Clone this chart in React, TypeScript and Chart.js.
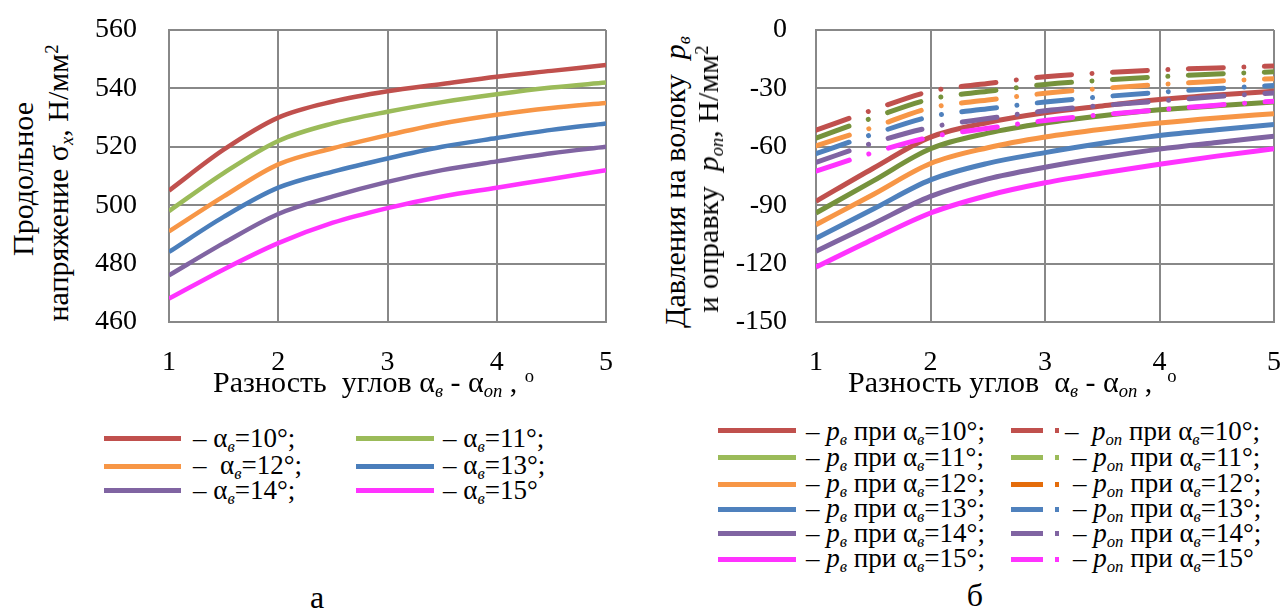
import React, { useEffect, useRef } from "react";
import { Chart, registerables } from "chart.js";

Chart.register(...registerables);

const FONT = '"Liberation Serif", "Times New Roman", serif';
const GRID = "#888888";

// ---------- data ----------
const angleDiff = [1, 1.5, 2, 2.5, 3, 3.5, 4, 4.5, 5];
const xTickValues = [1, 2, 3, 4, 5];
const sigmaTicks = [460, 480, 500, 520, 540, 560];
const pressureTicks = [-150, -120, -90, -60, -30, 0];
const alphaLabels = ["10", "11", "12", "13", "14", "15"];

// longitudinal stress sigma_x, N/mm2 (chart a)
const sigma10 = [505, 519, 530, 535.5, 539, 541.5, 544, 546, 548];
const sigma11 = [498, 511, 522, 528, 532, 535.3, 538, 540.3, 542];
const sigma12 = [491, 503, 514, 519.5, 524, 528, 531, 533.3, 535];
const sigma13 = [484, 496, 506, 511.5, 516, 520, 523, 525.8, 528];
const sigma14 = [476, 487, 497, 503, 508, 512, 515, 517.8, 520];
const sigma15 = [468, 478, 487, 494, 499, 503, 506, 509, 512];

// die pressure p_v (chart б, solid)
const pv10 = [-88, -71, -55, -47.5, -42.5, -39, -35.7, -33.4, -31.5];
const pv11 = [-94, -77.5, -61, -53, -47.8, -44, -41, -38.9, -37];
const pv12 = [-100, -84.5, -68.6, -60.5, -55, -51, -47.8, -45.2, -43];
const pv13 = [-107, -92, -77, -68.5, -63, -58.2, -54.2, -51.2, -48.5];
const pv14 = [-113.7, -99.5, -85.5, -76.5, -70.5, -65.5, -61.2, -57.8, -54.6];
const pv15 = [-121.8, -107.5, -94, -85, -78.5, -73.5, -69, -64.8, -61];

// mandrel pressure p_op (chart б, dash-dot)
const pop10 = [-51.5, -41, -31.5, -27.5, -24, -22, -20.5, -19.5, -18.5];
const pop11 = [-55.5, -45, -35.5, -31.5, -28, -25.8, -24, -22.6, -21.5];
const pop12 = [-59.5, -50, -40, -36, -32.5, -30, -28, -26.3, -25];
const pop13 = [-63.5, -53.5, -44.5, -40.5, -37, -34.3, -32, -30.1, -28.5];
const pop14 = [-68, -58, -50, -45.5, -41.5, -38.8, -36.5, -34.2, -32.3];
const pop15 = [-72.5, -63, -55, -50.5, -46.5, -43.5, -41, -38.6, -36.6];

// ---------- styles ----------
const leftColors = ["#C0504D", "#9BBB59", "#F79646", "#4A7EBB", "#8064A2", "#FF33FF"];
const rightColors = ["#C0504D", "#76923C", "#F79646", "#4F81BD", "#8064A2", "#FF33FF"];
const rightLegendSolid = ["#C0504D", "#9BBB59", "#F79646", "#4F81BD", "#8064A2", "#FF33FF"];
const rightLegendDash = ["#C0504D", "#9BBB59", "#E46C0A", "#4F81BD", "#8064A2", "#FF33FF"];

const sigmaSeries = [sigma10, sigma11, sigma12, sigma13, sigma14, sigma15];
const pvSeries = [pv10, pv11, pv12, pv13, pv14, pv15];
const popSeries = [pop10, pop11, pop12, pop13, pop14, pop15];

const toPoints = (ys: number[]) => ys.map((y, i) => ({ x: angleDiff[i], y }));

type ChartCfg = {
  left: number;
  width: number;
  yAxisWidth: number;
  tickPad: number;
  padRight: number;
  yMin: number;
  yMax: number;
  yTicks: number[];
  datasets: any[];
};

function PlotCanvas({ cfg }: { cfg: ChartCfg }) {
  const ref = useRef<HTMLCanvasElement | null>(null);
  useEffect(() => {
    if (!ref.current) return;
    const tickFont = { family: FONT, size: 28 };
    const chart = new Chart(ref.current, {
      type: "line",
      data: { datasets: cfg.datasets },
      options: {
        responsive: false,
        animation: false,
        devicePixelRatio: 1,
        layout: { padding: { top: 30, right: cfg.padRight, left: 0, bottom: 0 } },
        plugins: { legend: { display: false }, tooltip: { enabled: false } },
        elements: { point: { radius: 0 } },
        scales: {
          x: {
            type: "linear",
            min: 1,
            max: 5,
            afterBuildTicks: (s: any) => {
              s.ticks = xTickValues.map((v) => ({ value: v }));
            },
            afterFit: (s: any) => {
              s.height = 58;
              s.paddingLeft = 0;
              s.paddingRight = 0;
            },
            ticks: { font: tickFont, color: "#000", padding: 24, maxRotation: 0, autoSkip: false },
            grid: { color: GRID, lineWidth: 2, drawTicks: false },
            border: { display: true, color: GRID, width: 2 },
          },
          y: {
            type: "linear",
            min: cfg.yMin,
            max: cfg.yMax,
            afterBuildTicks: (s: any) => {
              s.ticks = cfg.yTicks.map((v) => ({ value: v }));
            },
            afterFit: (s: any) => {
              s.width = cfg.yAxisWidth;
              s.paddingTop = 0;
              s.paddingBottom = 0;
            },
            ticks: { font: tickFont, color: "#000", padding: cfg.tickPad },
            grid: { color: GRID, lineWidth: 2, drawTicks: false },
            border: { display: true, color: GRID, width: 2 },
          },
        },
      } as any,
    });
    return () => chart.destroy();
  }, []);
  return (
    <canvas
      ref={ref}
      width={cfg.width}
      height={380}
      style={{ position: "absolute", left: cfg.left, top: 0, width: cfg.width, height: 380 }}
    />
  );
}

const Sub = ({ children, italic = true }: any) => (
  <span
    style={{
      fontSize: "0.62em",
      fontStyle: italic ? "italic" : "normal",
      position: "relative",
      top: "0.28em",
    }}
  >
    {children}
  </span>
);
const Sup = ({ children }: any) => (
  <span style={{ fontSize: "0.62em", position: "relative", top: "-0.55em" }}>{children}</span>
);
const AlphaV = () => (
  <>
    α<Sub>в</Sub>
  </>
);
const P = ({ sub }: { sub: string }) => (
  <>
    <i>p</i>
    <Sub>{sub}</Sub>
  </>
);

function Text({ x, y, size, children, anchor = "left" }: any) {
  // y = baseline
  const top = y - 0.8375 * size;
  return (
    <div
      style={{
        position: "absolute",
        left: x,
        top,
        fontSize: size,
        lineHeight: `${size}px`,
        whiteSpace: "pre",
        transform: anchor === "center" ? "translateX(-50%)" : undefined,
      }}
    >
      {children}
    </div>
  );
}

function VText({ cx, cy, size, children }: any) {
  return (
    <div
      style={{
        position: "absolute",
        left: cx,
        top: cy,
        fontSize: size,
        lineHeight: `${size}px`,
        whiteSpace: "pre",
        transform: "translate(-50%, -50%) rotate(-90deg)",
      }}
    >
      {children}
    </div>
  );
}

function Bar({ x1, x2, y, h, color }: any) {
  return (
    <div
      style={{ position: "absolute", left: x1, top: y - h / 2, width: x2 - x1, height: h, background: color }}
    />
  );
}

export default function App() {
  const leftCfg: ChartCfg = {
    left: 80,
    width: 560,
    yAxisWidth: 89,
    tickPad: 32,
    padRight: 34,
    yMin: 460,
    yMax: 560,
    yTicks: sigmaTicks,
    datasets: sigmaSeries.map((s, i) => ({
      data: toPoints(s),
      borderColor: leftColors[i],
      borderWidth: 4.5,
      pointRadius: 0,
      cubicInterpolationMode: "monotone",
      fill: false,
    })),
  };

  const rightCfg: ChartCfg = {
    left: 720,
    width: 565,
    yAxisWidth: 96,
    tickPad: 29,
    padRight: 11,
    yMin: -150,
    yMax: 0,
    yTicks: pressureTicks,
    datasets: [
      ...popSeries.map((s, i) => ({
        data: toPoints(s),
        borderColor: rightColors[i],
        borderWidth: 5,
        borderDash: [35, 20.5, 0.01, 20.5],
        borderCapStyle: "round",
        pointRadius: 0,
        cubicInterpolationMode: "monotone",
        fill: false,
      })),
      ...pvSeries.map((s, i) => ({
        data: toPoints(s),
        borderColor: rightColors[i],
        borderWidth: 5,
        pointRadius: 0,
        cubicInterpolationMode: "monotone",
        fill: false,
      })),
    ],
  };

  const leftLegendRows = [438, 466, 490];
  const leftLegendBase = [448, 475, 500];
  const rightLegendRows = [430, 457, 484, 509, 533, 559];
  const rightLegendBase = [441, 467, 493, 518, 543, 568];

  return (
    <div
      style={{
        position: "absolute",
        left: 0,
        top: 0,
        width: 1285,
        height: 611,
        overflow: "hidden",
        background: "#fff",
        fontFamily: FONT,
        color: "#000",
      }}
    >
      <PlotCanvas cfg={leftCfg} />
      <PlotCanvas cfg={rightCfg} />

      {/* Y axis titles */}
      <VText cx={23} cy={179} size={30}>
        Продольное
      </VText>
      <VText cx={60} cy={183} size={30}>
        напряжение σ<Sub>x</Sub>, Н/мм<Sup>2</Sup>
      </VText>
      <VText cx={677} cy={182} size={30}>
        Давления на волоку  <P sub="в" />
      </VText>
      <VText cx={710} cy={179} size={30}>
        и оправку  <P sub="оп" />, Н/мм<Sup>2</Sup>
      </VText>

      {/* X axis titles */}
      <Text x={213} y={392} size={30}>
        Разность  углов <AlphaV /> - α<Sub>оп</Sub> , <Sup>o</Sup>
      </Text>
      <Text x={848} y={392} size={30}>
        Разность углов  <AlphaV /> - α<Sub>оп</Sub> ,  <Sup>o</Sup>
      </Text>

      {/* Legend a */}
      {alphaLabels.map((a, i) => {
        const col = i % 2;
        const row = Math.floor(i / 2);
        const last = i === alphaLabels.length - 1;
        return (
          <React.Fragment key={"la" + i}>
            <Bar
              x1={col === 0 ? 104 : 356}
              x2={col === 0 ? 181 : 434}
              y={leftLegendRows[row]}
              h={5}
              color={leftColors[i]}
            />
            <Text x={col === 0 ? 193 : 443} y={leftLegendBase[row]} size={27}>
              {i === 2 ? "–  " : "– "}
              <AlphaV />={a}°{last ? "" : ";"}
            </Text>
          </React.Fragment>
        );
      })}

      {/* Legend б */}
      {alphaLabels.map((a, i) => (
        <React.Fragment key={"lb" + i}>
          <Bar x1={718} x2={796} y={rightLegendRows[i]} h={5} color={rightLegendSolid[i]} />
          <Text x={806} y={rightLegendBase[i]} size={27}>
            – <P sub="в" /> при <AlphaV />={a}°;
          </Text>
          <Bar x1={1011} x2={1043} y={rightLegendRows[i]} h={5} color={rightLegendDash[i]} />
          <Bar x1={1055} x2={1059} y={rightLegendRows[i]} h={5} color={rightLegendDash[i]} />
          <Text x={i === 0 ? 1065 : 1073} y={rightLegendBase[i]} size={27}>
            {i === 0 ? "–  " : "– "}
            <P sub="оп" /> при <AlphaV />={a}°{i === alphaLabels.length - 1 ? "" : ";"}
          </Text>
        </React.Fragment>
      ))}

      {/* captions */}
      <Text x={317} y={608} size={32} anchor="center">
        а
      </Text>
      <Text x={975} y={606} size={32} anchor="center">
        б
      </Text>
    </div>
  );
}
